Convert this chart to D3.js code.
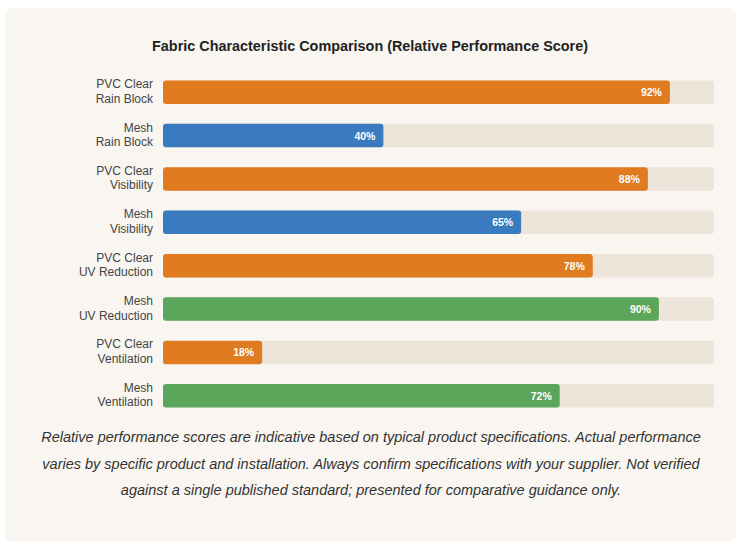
<!DOCTYPE html>
<html>
<head>
<meta charset="utf-8">
<script src="https://cdn.jsdelivr.net/npm/d3@7"></script>
<style>
  body { margin: 0; background: #ffffff; font-family: "Liberation Sans", Arial, sans-serif; }
  #card {
    position: absolute; left: 5px; top: 8px; width: 731px; height: 534px;
    background: #f9f6f1; border-radius: 8px;
  }
  #note {
    position: absolute; left: 36px; top: 424px; width: 670px;
    text-align: center; font-style: italic; font-size: 14.5px; line-height: 26.5px; color: #333;
  }
</style>
</head>
<body>
<div id="card"></div>
<svg id="chart" width="744" height="545" style="position:absolute;left:0;top:0"></svg>
<div id="note">Relative performance scores are indicative based on typical product specifications. Actual performance varies by specific product and installation. Always confirm specifications with your supplier. Not verified against a single published standard; presented for comparative guidance only.</div>
<script>
const fabrics = ["PVC Clear", "Mesh", "PVC Clear", "Mesh", "PVC Clear", "Mesh", "PVC Clear", "Mesh"];
const traits = ["Rain Block", "Rain Block", "Visibility", "Visibility", "UV Reduction", "UV Reduction", "Ventilation", "Ventilation"];
const scores = [92, 40, 88, 65, 78, 90, 18, 72];
const colorKeys = ["orange", "blue", "orange", "blue", "orange", "green", "orange", "green"];

const palette = {orange: "#e07b20", blue: "#3a7bbf", green: "#5ca65b"};

const rows = scores.map((v, i) => ({fabric: fabrics[i], trait: traits[i], value: v, color: colorKeys[i], id: i}));

const svg = d3.select("#chart");

svg.append("text")
    .attr("x", 370).attr("y", 51)
    .attr("text-anchor", "middle")
    .style("font-size", "14.4px").style("font-weight", "bold").style("fill", "#222")
    .text("Fabric Characteristic Comparison (Relative Performance Score)");

const x = d3.scaleLinear().domain([0, 100]).range([163, 714]);
const y = d3.scaleBand()
    .domain(rows.map(d => d.id))
    .range([70.5, 417.5])
    .paddingInner(0.46)
    .paddingOuter(0.23);

// tracks
svg.selectAll("rect.track")
    .data(rows)
    .enter().append("rect")
    .attr("class", "track")
    .attr("x", x(0)).attr("y", d => y(d.id))
    .attr("width", x(100) - x(0)).attr("height", y.bandwidth())
    .attr("rx", 3)
    .attr("fill", "#ede5d9");

// bars
svg.selectAll("rect.bar")
    .data(rows)
    .enter().append("rect")
    .attr("class", "bar")
    .attr("x", x(0)).attr("y", d => y(d.id))
    .attr("width", d => x(d.value) - x(0)).attr("height", y.bandwidth())
    .attr("rx", 3)
    .attr("fill", d => palette[d.color]);

// value labels
svg.selectAll("text.val")
    .data(rows)
    .enter().append("text")
    .attr("class", "val")
    .attr("x", d => x(d.value) - 8)
    .attr("y", d => y(d.id) + y.bandwidth() / 2 + 4)
    .attr("text-anchor", "end")
    .style("font-size", "10.5px").style("font-weight", "bold").style("fill", "#fff")
    .text(d => d.value + "%");

// category labels (two lines)
const lab = svg.selectAll("text.lab")
    .data(rows)
    .enter().append("text")
    .attr("class", "lab")
    .attr("text-anchor", "end")
    .style("font-size", "12px").style("fill", "#444");
lab.append("tspan")
    .attr("x", 153)
    .attr("y", d => y(d.id) + y.bandwidth() / 2 - 4)
    .text(d => d.fabric);
lab.append("tspan")
    .attr("x", 153)
    .attr("y", d => y(d.id) + y.bandwidth() / 2 + 10.5)
    .text(d => d.trait);
</script>
</body>
</html>
